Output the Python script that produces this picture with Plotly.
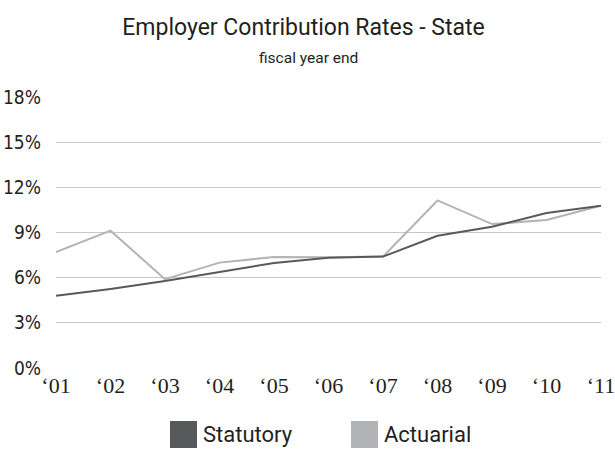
import plotly.graph_objects as go

years = ["\u201801", "\u201802", "\u201803", "\u201804", "\u201805", "\u201806",
         "\u201807", "\u201808", "\u201809", "\u201810", "\u201811"]
statutory = [4.8, 5.25, 5.78, 6.4, 6.97, 7.33, 7.4, 8.78, 9.38, 10.29, 10.78]
actuarial = [7.7, 9.12, 5.9, 7.0, 7.37, 7.35, 7.4, 11.13, 9.56, 9.83, 10.78]
y_ticks = [0, 3, 6, 9, 12, 15, 18]
y_labels = ["0%", "3%", "6%", "9%", "12%", "15%", "18%"]

dark = "#58595b"
light = "#b1b3b6"
ink = "#231f20"
sans = "Roboto, sans-serif"
narrow = "DejaVu Sans Condensed, Roboto, sans-serif"

x = list(range(len(years)))

fig = go.Figure()
fig.add_trace(go.Scatter(x=x, y=actuarial, mode="lines", name="Actuarial",
                         line=dict(color=light, width=2)))
fig.add_trace(go.Scatter(x=x, y=statutory, mode="lines", name="Statutory",
                         line=dict(color=dark, width=2)))

# legend drawn as swatches + labels beneath the plot
for x0, color, label in [(170, dark, "Statutory"), (351, light, "Actuarial")]:
    fig.add_shape(type="rect", xref="paper", yref="paper",
                  x0=(x0 - 56) / 545, x1=(x0 + 27 - 56) / 545,
                  y0=(368 - 448) / 271, y1=(368 - 421) / 271,
                  fillcolor=color, line=dict(width=0))
    fig.add_annotation(text=label, xref="paper", yref="paper",
                       x=(x0 + 31 - 56) / 545, y=(368 - 434.5) / 271,
                       xanchor="left", yanchor="middle", showarrow=False,
                       font=dict(family=sans, size=22, color=ink))

fig.update_layout(
    width=615, height=449,
    margin=dict(l=56, r=14, t=97, b=81, autoexpand=False),
    paper_bgcolor="white", plot_bgcolor="white",
    showlegend=False,
    title=dict(text="Employer Contribution Rates - State", x=303.5 / 615, xref="container",
               xanchor="center", y=1 - 27 / 449, yanchor="middle",
               font=dict(family=sans, size=23, color=ink)),
)
fig.add_annotation(text="fiscal year end", xref="paper", yref="paper",
                   x=(308 - 56) / 545, y=(368 - 58) / 271, xanchor="center", yanchor="middle",
                   showarrow=False,
                   font=dict(family=sans, size=15.5, color=ink))

fig.update_xaxes(range=[0, 10], tickmode="array", tickvals=x, ticktext=years,
                 showgrid=False, zeroline=False, showline=False, ticks="",
                 ticklabelstandoff=2, ticklabeloverflow="allow", automargin=False,
                 tickfont=dict(family="Liberation Serif, serif", size=22, color=ink))
fig.update_yaxes(range=[0, 18], tickmode="array", tickvals=y_ticks, ticktext=y_labels,
                 showgrid=True, gridcolor="#c8c8c8", gridwidth=1,
                 zeroline=False, showline=False, ticks="",
                 ticklabelstandoff=14, automargin=False,
                 tickfont=dict(family=narrow, size=19, color=ink))

fig.write_html("out.html")
